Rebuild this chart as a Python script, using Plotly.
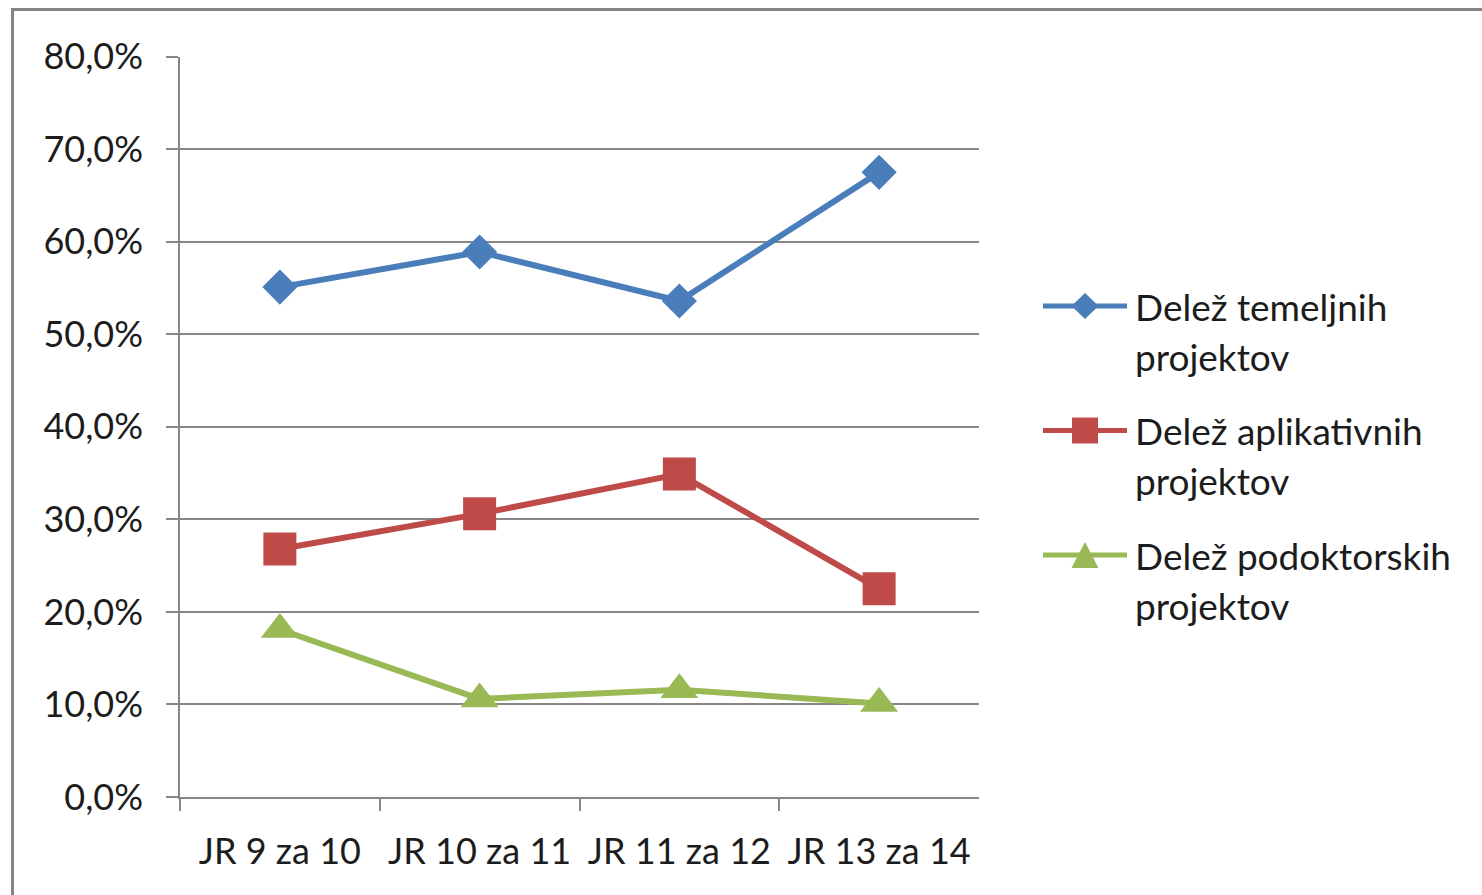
import plotly.graph_objects as go

# ---------------- data ----------------
categories = ["JR 9 za 10", "JR 10 za 11", "JR 11 za 12", "JR 13 za 14"]
series_names = ["Delež temeljnih projektov",
                "Delež aplikativnih projektov",
                "Delež podoktorskih projektov"]
legend_lines = [["Delež temeljnih", "projektov"],
                ["Delež aplikativnih", "projektov"],
                ["Delež podoktorskih", "projektov"]]
temeljni = [0.551, 0.589, 0.536, 0.675]
aplikativni = [0.268, 0.306, 0.349, 0.225]
podoktorski = [0.181, 0.106, 0.116, 0.101]
y_ticks = [0.0, 0.1, 0.2, 0.3, 0.4, 0.5, 0.6, 0.7, 0.8]

# ---------------- style ----------------
W, H = 1482, 895
FONT = "Lato"
FS = 36
LEG_FS = 37
TEXT = "#1c1c1c"
GRID = "#878787"
styles = [
    dict(color="#4A7EBB", symbol="diamond", size=27,
         legend_path="M-13.5,0 L0,13 L13.5,0 L0,-13 Z"),
    dict(color="#BE4B48", symbol="square", size=33,
         legend_path="M-13,-13 L13,-13 L13,13 L-13,13 Z"),
    dict(color="#98B954", symbol="triangle-up", size=33,
         legend_path="M-13.5,-13 L13.5,-13 L0,13 Z"),
]

# plot area in pixels
PL, PR, PT, PB = 180, 979, 56.5, 797
# legend layout in pixels
LEG_LINE_X0, LEG_LINE_X1, LEG_TEXT_X = 1043, 1127, 1133
LEG_Y0, LEG_STEP, LEG_LINE_H = 306, 124.5, 50


def px(x):
    return x / W


def py(y):
    return 1 - y / H


fig = go.Figure()
values = [temeljni, aplikativni, podoktorski]
for name, vals, st in zip(series_names, values, styles):
    fig.add_trace(go.Scatter(
        x=categories, y=vals, name=name, mode="lines+markers",
        line=dict(color=st["color"], width=6),
        marker=dict(symbol=st["symbol"], size=st["size"], color=st["color"],
                    line=dict(width=0)),
        showlegend=False,
    ))

# custom legend (line + marker + two-line label)
shapes = []
annotations = []
for i, (lines, st) in enumerate(zip(legend_lines, styles)):
    yc = LEG_Y0 + i * LEG_STEP
    shapes.append(dict(type="line", xref="paper", yref="paper",
                       x0=px(LEG_LINE_X0), x1=px(LEG_LINE_X1), y0=py(yc), y1=py(yc),
                       line=dict(color=st["color"], width=5)))
    shapes.append(dict(type="path", xref="paper", yref="paper",
                       xsizemode="pixel", ysizemode="pixel",
                       xanchor=px((LEG_LINE_X0 + LEG_LINE_X1) / 2), yanchor=py(yc),
                       path=st["legend_path"], fillcolor=st["color"],
                       line=dict(width=0)))
    for j, txt in enumerate(lines):
        annotations.append(dict(
            text=txt, xref="paper", yref="paper", x=px(LEG_TEXT_X),
            y=py(yc + j * LEG_LINE_H), xanchor="left", yanchor="middle",
            showarrow=False, font=dict(family=FONT, size=LEG_FS, color=TEXT)))

# outer frame (left and top edges visible)
shapes.append(dict(type="line", xref="paper", yref="paper",
                   x0=px(12.5), x1=px(12.5), y0=py(9.5), y1=0,
                   line=dict(color="#848484", width=3)))
shapes.append(dict(type="line", xref="paper", yref="paper",
                   x0=px(11), x1=1, y0=py(9.5), y1=py(9.5),
                   line=dict(color="#848484", width=3)))

fig.update_layout(
    template="none",
    width=W, height=H, autosize=False,
    margin=dict(l=0, r=0, t=0, b=0, pad=0),
    paper_bgcolor="white", plot_bgcolor="white",
    separators=", ",
    showlegend=False,
    font=dict(family=FONT, size=FS, color=TEXT),
    shapes=shapes, annotations=annotations,
    xaxis=dict(
        domain=[px(PL), px(PR)], type="category", categoryorder="array",
        categoryarray=categories, range=[-0.5, len(categories) - 0.5],
        tickson="boundaries", ticks="outside", ticklen=12, tickwidth=1.5,
        tickcolor=GRID, showline=True, linecolor=GRID, linewidth=1.5,
        showgrid=False, zeroline=False, ticklabelstandoff=22, automargin=False,
        tickfont=dict(family=FONT, size=FS, color=TEXT), fixedrange=True,
    ),
    yaxis=dict(
        domain=[py(PB), py(PT)], range=[0, 0.8002], tickmode="array",
        tickvals=y_ticks, tickformat=".1%", ticks="outside", ticklen=12,
        tickwidth=1.5, tickcolor=GRID, showline=True, linecolor=GRID,
        linewidth=1.5, showgrid=True, gridcolor=GRID, gridwidth=1.5,
        zeroline=False, ticklabelstandoff=16, automargin=False,
        tickfont=dict(family=FONT, size=FS, color=TEXT), fixedrange=True,
    ),
)

fig.write_html(
    "out.html",
    config={"displayModeBar": False},
    post_script="document.body.style.margin='0';document.body.style.padding='0';",
)
